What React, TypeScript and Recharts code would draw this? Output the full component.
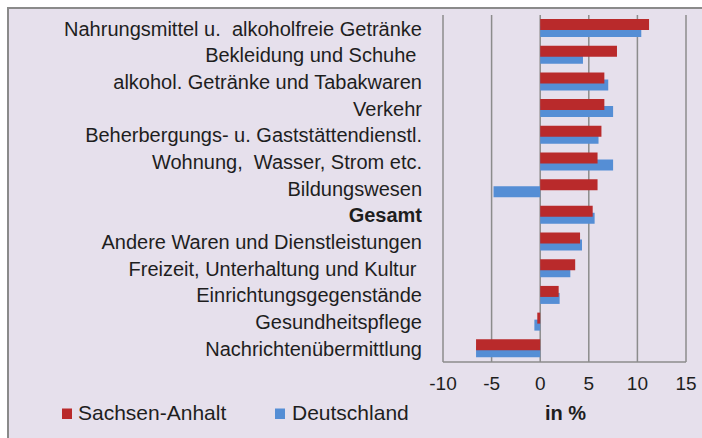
import React from 'react';
import { BarChart, Bar, XAxis, YAxis, CartesianGrid, Legend } from 'recharts';

const categories = [
  'Nahrungsmittel u.  alkoholfreie Getränke',
  'Bekleidung und Schuhe ',
  'alkohol. Getränke und Tabakwaren',
  'Verkehr',
  'Beherbergungs- u. Gaststättendienstl.',
  'Wohnung,  Wasser, Strom etc.',
  'Bildungswesen',
  'Gesamt',
  'Andere Waren und Dienstleistungen',
  'Freizeit, Unterhaltung und Kultur ',
  'Einrichtungsgegenstände',
  'Gesundheitspflege',
  'Nachrichtenübermittlung',
];
const sachsenAnhalt = [11.2, 7.9, 6.6, 6.6, 6.3, 5.9, 5.9, 5.4, 4.1, 3.6, 1.9, -0.3, -6.6];
const deutschland = [10.4, 4.4, 7.0, 7.5, 6.0, 7.5, -4.8, 5.6, 4.3, 3.1, 2.0, -0.6, -6.6];
const xTicks = [-10, -5, 0, 5, 10, 15];
const seriesNames = ['Sachsen-Anhalt', 'Deutschland'];
const unitLabel = 'in %';
const boldCategory = 'Gesamt';

const RED = '#B92A2B';
const BLUE = '#558ED5';
const GRID = '#8C8C8C';
const TEXT = '#1e1e1e';
const FONT = '"Liberation Sans", Arial, sans-serif';

const data = categories.map((name, i) => ({
  name,
  sa: sachsenAnhalt[i],
  de: deutschland[i],
}));

const CategoryTick = (props: any) => {
  const { x, y, payload } = props;
  const bold = payload.value === boldCategory;
  return (
    <text
      x={x}
      y={y}
      dy="0.36em"
      textAnchor="end"
      fontSize={20}
      fontFamily={FONT}
      fontWeight={bold ? 'bold' : 'normal'}
      fill={TEXT}
      style={{ whiteSpace: 'pre' }}
    >
      {payload.value}
    </text>
  );
};

const renderLegend = () => (
  <svg width={702} height={30} style={{ display: 'block' }}>
    <rect x={62} y={10.5} width={10} height={10.5} fill={RED} />
    <text x={78} y={22} fontSize={21} fontFamily={FONT} fill={TEXT}>
      {seriesNames[0]}
    </text>
    <rect x={275} y={10.5} width={10} height={10.5} fill={BLUE} />
    <text x={292} y={22} fontSize={21} fontFamily={FONT} fill={TEXT}>
      {seriesNames[1]}
    </text>
    <text x={545} y={22} fontSize={20} fontFamily={FONT} fontWeight="bold" fill={TEXT}>
      {unitLabel}
    </text>
  </svg>
);

export default function App() {
  return (
    <div
      style={{
        position: 'absolute',
        left: 0,
        top: 0,
        width: 702,
        height: 438,
        overflow: 'hidden',
        background: '#ffffff',
      }}
    >
      <div
        style={{
          position: 'absolute',
          left: 7,
          top: 7,
          width: 720,
          height: 460,
          background: '#E6E0EC',
          border: '2px solid #8A8A8A',
        }}
      />
      <div style={{ position: 'absolute', left: 0, top: 0 }}>
        <BarChart
          width={702}
          height={438}
          data={data}
          layout="vertical"
          margin={{ top: 15, right: 16, bottom: 16, left: 0 }}
          barGap={-4}
          barSize={11}
        >
          <CartesianGrid horizontal={false} vertical stroke={GRID} strokeWidth={1.5} />
          <XAxis
            type="number"
            domain={[-10, 15]}
            ticks={xTicks}
            interval={0}
            allowDataOverflow
            axisLine={{ stroke: GRID, strokeWidth: 1.5 }}
            tickLine={false}
            tickMargin={9}
            height={30}
            tick={{ fontSize: 19, fontFamily: FONT, fill: TEXT }}
          />
          <YAxis
            type="category"
            dataKey="name"
            width={443}
            interval={0}
            axisLine={false}
            tickLine={false}
            tickMargin={15}
            tick={<CategoryTick />}
          />
          <Legend
            verticalAlign="bottom"
            content={renderLegend}
            wrapperStyle={{ position: 'absolute', left: 0, top: 398, width: 702, height: 30 }}
          />
          <Bar dataKey="sa" name={seriesNames[0]} fill={RED} isAnimationActive={false} zIndex={310} />
          <Bar dataKey="de" name={seriesNames[1]} fill={BLUE} isAnimationActive={false} zIndex={300} />
        </BarChart>
      </div>
    </div>
  );
}
